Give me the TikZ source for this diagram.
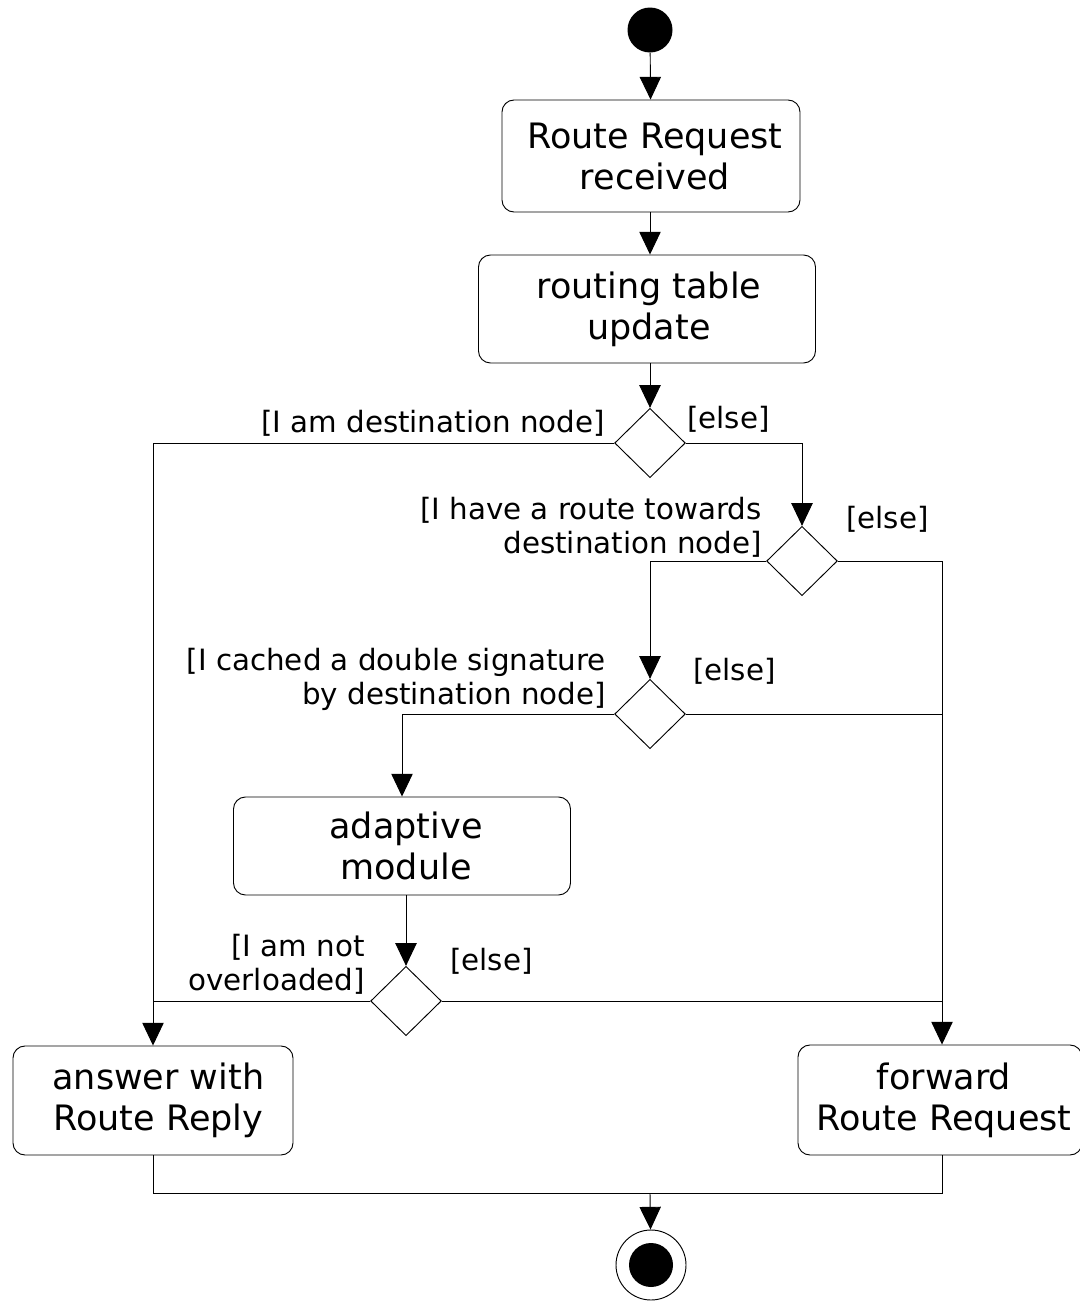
\documentclass[tikz,border=0pt]{standalone}
\usepackage{fontspec}
\setmainfont{DejaVu Sans}
\usetikzlibrary{arrows.meta,shapes.geometric}

\tikzset{
  flow/.style={line width=0.7pt, draw=black},
  arr/.style={flow, -{Triangle[width=16pt,length=17pt]}},
  action/.style={draw=black, line width=0.7pt, rounded corners=9pt, inner sep=0pt,
    align=center, font=\fontsize{26.25}{30.75}\selectfont},
  decision/.style={draw=black, line width=0.7pt, diamond, inner sep=0pt,
    minimum width=53pt, minimum height=52pt},
  guard/.style={inner sep=0pt, font=\fontsize{22}{25.5}\selectfont},
}

\begin{document}
\begin{tikzpicture}[x=0.75pt, y=-0.75pt]
  \useasboundingbox (0,0) rectangle (1080,1303);

  % initial and final nodes
  \node[circle, fill=black, inner sep=0pt, minimum size=33.75pt] (start) at (650,30) {};
  \node[circle, draw=black, line width=0.7pt, inner sep=0pt, minimum size=52.5pt] (end) at (651,1265) {};
  \node[circle, fill=black, inner sep=0pt, minimum size=33pt] (endin) at (651,1265) {};

  % actions
  \node[action, minimum width=223.5pt, minimum height=84pt] (recv) at (651,156) {\hspace*{6pt}Route Request\\\hspace*{6pt}received};
  \node[action, minimum width=252.75pt, minimum height=81pt] (upd) at (647,309) {\hspace*{3pt}routing table\\\hspace*{3pt}update};
  \node[action, minimum width=252.75pt, minimum height=73.5pt] (adapt) at (402,846) {\hspace*{6pt}adaptive\\\hspace*{6pt}module};
  \node[action, minimum width=210pt, minimum height=81.75pt] (reply) at (153,1100.5) {\hspace*{8pt}answer with\\\hspace*{8pt}Route Reply};
  \node[action, minimum width=213pt, minimum height=82.5pt] (fwd) at (940,1100) {\hspace*{6pt}forward\\\hspace*{6pt}Route Request};

  % entry and exit points of the forward action
  \coordinate (fwdin) at ([xshift=1.5pt]fwd.north);
  \coordinate (fwdout) at ([xshift=1.5pt]fwd.south);

  % decisions
  \node[decision] (d1) at (650,443) {};
  \node[decision] (d2) at (802,561) {};
  \node[decision] (d3) at (650,714) {};
  \node[decision] (d4) at (406,1001) {};

  % merge point above the final node
  \coordinate (merge) at (650,1193);

  % guards (multi-line guards are anchored at their last baseline)
  \node[guard, anchor=base east] (g1) at (605,432) {[I am destination node]};
  \node[guard, anchor=base west] (e1) at (687,428) {[else]};
  \node[guard, anchor=base east, align=right] (g2) at (762,553) {[I have a route towards\\destination node]};
  \node[guard, anchor=base west] (e2) at (846,528) {[else]};
  \node[guard, anchor=base east, align=right] (g3) at (606,704) {[I cached a double signature\\by destination node]};
  \node[guard, anchor=base west] (e3) at (693,680) {[else]};
  \node[guard, anchor=base east, align=right] (g4) at (365,990) {[I am not\\overloaded]};
  \node[guard, anchor=base west] (e4) at (450,970) {[else]};

  % control flow
  \draw[arr] (start) -- (recv);
  \draw[arr] (recv.south -| start) -- (upd.north -| start);
  \draw[arr] (upd.south -| d1) -- (d1);
  \draw[arr] (d1.west) -| (reply.north);
  \draw[arr] (d1.east) -| (d2.north);
  \draw[arr] (d2.east) -| (fwdin);
  \draw[arr] (d2.west) -| (d3.north);
  \draw[flow] (d3.east) -- (d3.east -| fwdin);
  \draw[arr] (d3.west) -| (adapt.north);
  \draw[arr] (adapt.south -| d4) -- (d4);
  \draw[flow] (d4.west) -- (d4.west -| reply.north);
  \draw[flow] (d4.east) -- (d4.east -| fwdin);
  \draw[flow] (reply.south) |- (merge);
  \draw[flow] (fwdout) |- (merge);
  \draw[arr] (merge) -- (end);
\end{tikzpicture}
\end{document}
